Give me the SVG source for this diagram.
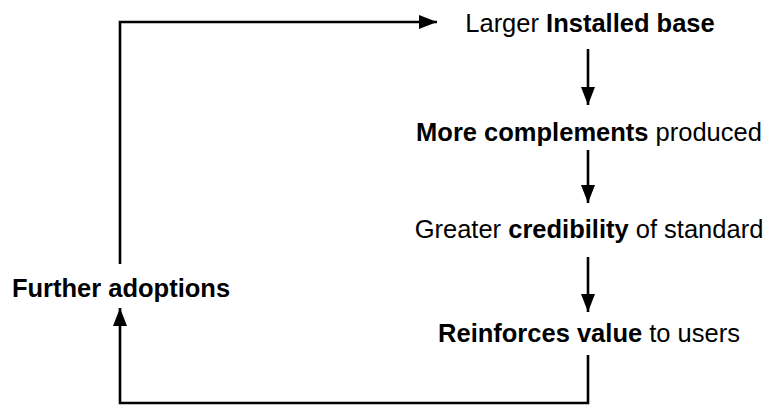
<svg xmlns="http://www.w3.org/2000/svg" width="768" height="407" viewBox="0 0 768 407">
<defs>
<style>
text{font-family:"Liberation Sans",Arial,Helvetica,sans-serif;font-size:25.5px;fill:#000;text-anchor:middle}
.b{font-weight:bold}
.c{fill:none;stroke:#000;stroke-width:2.6}
</style>
<marker id="ah" markerUnits="userSpaceOnUse" markerWidth="20" markerHeight="16" refX="18" refY="7" orient="auto">
<path d="M0,0 L18,7 L0,14 Z" fill="#000"/>
</marker>
</defs>
<rect width="768" height="407" fill="#fff"/>
<g id="connectors">
<path class="c" d="M120,264 V22 H437" marker-end="url(#ah)"/>
<path class="c" d="M588,49 V105" marker-end="url(#ah)"/>
<path class="c" d="M588,150 V203" marker-end="url(#ah)"/>
<path class="c" d="M588,257 V312" marker-end="url(#ah)"/>
<path class="c" d="M588,355 V403 H120 V308" marker-end="url(#ah)"/>
</g>
<g id="n1"><text x="590" y="32">Larger <tspan class="b">Installed base</tspan></text></g>
<g id="n2"><text x="589" y="141"><tspan class="b">More complements</tspan> produced</text></g>
<g id="n3"><text x="589" y="238">Greater <tspan class="b">credibility</tspan> of standard</text></g>
<g id="n4"><text x="589" y="342"><tspan class="b">Reinforces value</tspan> to users</text></g>
<g id="n5"><text class="b" x="121" y="297">Further adoptions</text></g>
</svg>
